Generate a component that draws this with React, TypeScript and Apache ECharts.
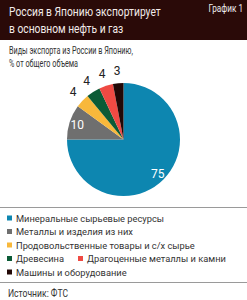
import React, { useEffect, useRef } from "react";
import * as echarts from "echarts";

const categories = [
  "Минеральные сырьевые ресурсы",
  "Металлы и изделия из них",
  "Продовольственные товары и с/х сырье",
  "Древесина",
  "Драгоценные металлы и камни",
  "Машины и оборудование",
];
const values = [75, 10, 4, 4, 4, 3];
const colors = ["#0d86b0", "#6f6f6f", "#f8b83b", "#0b5b36", "#ef4a43", "#220806"];
const innerLabelIdx = [0, 1];

const FONT = "Roboto, 'Liberation Sans', sans-serif";

export default function App() {
  const ref = useRef<HTMLDivElement>(null);
  useEffect(() => {
    if (!ref.current) return;
    const chart = echarts.init(ref.current, undefined, { renderer: "svg" });
    const center = [123.5, 139.5];
    const mainData = categories.map((n, i) => ({
      name: n,
      value: values[i],
      itemStyle: { color: colors[i] },
    }));
    const labelData = (inner: boolean) =>
      categories.map((n, i) => {
        const isInner = innerLabelIdx.includes(i);
        return {
          name: n,
          value: values[i],
          label: { show: inner ? isInner : !isInner },
        };
      });
    const legendRow = (names: string[], left: number, cy: number) => ({
      data: names,
      left,
      top: cy - 7,
      orient: "horizontal",
      icon: "rect",
      itemWidth: 5,
      itemHeight: 5,
      itemGap: 20,
      padding: 0,
      selectedMode: false,
      textStyle: { fontFamily: FONT, fontSize: 9.3, color: "#333", lineHeight: 14, padding: [0, 0, 0, -1] },
    });
    const txt = (text: string, x: number, y: number, size: number, sx: number, fill: string, align = "left") => ({
      type: "text",
      x,
      y,
      scaleX: sx,
      style: { text, fill, font: `${size}px ${FONT}`, textAlign: align, textVerticalAlign: "middle" },
    });
    chart.setOption({
      animation: false,
      backgroundColor: "#ffffff",
      graphic: [
        { type: "rect", shape: { x: 0, y: 0, width: 247, height: 40 }, style: { fill: "#2a0a08" }, z: 0 },
        txt("Россия в Японию экспортирует", 9, 12, 13, 0.79, "#f2eaea"),
        txt("в основном нефть и газ", 9, 29, 13, 0.79, "#f2eaea"),
        txt("График 1", 243, 9, 10, 0.82, "#eeeeee", "right"),
        txt("Виды экспорта из России в Японию,", 9, 51, 10.5, 0.69, "#333333"),
        txt("% от общего объема", 9, 64, 10.5, 0.69, "#333333"),
        { type: "line", shape: { x1: 0, y1: 207.5, x2: 247, y2: 207.5 }, style: { stroke: "#9a9a9a", lineWidth: 1 } },
        { type: "line", shape: { x1: 0, y1: 282.5, x2: 247, y2: 282.5 }, style: { stroke: "#9a9a9a", lineWidth: 1 } },
        txt("Источник: ФТС", 8, 293, 11, 0.78, "#333333"),
      ],
      legend: [
        legendRow([categories[0]], 7, 218),
        legendRow([categories[1]], 7, 231.5),
        legendRow([categories[2]], 7, 245),
        legendRow([categories[3]], 7, 258.5),
        legendRow([categories[4]], 78, 258.5),
        legendRow([categories[5]], 7, 272),
      ],
      series: [
        {
          type: "pie",
          center,
          radius: 56.5,
          startAngle: 90,
          clockwise: true,
          silent: true,
          label: { show: false },
          labelLine: { show: false },
          itemStyle: { borderWidth: 0 },
          data: mainData,
        },
        {
          type: "pie",
          center,
          radius: [33, 58],
          startAngle: 90,
          clockwise: true,
          silent: true,
          itemStyle: { color: "transparent", borderWidth: 0 },
          label: { position: "inside", color: "#ffffff", fontFamily: FONT, fontSize: 12, formatter: "{c}" },
          labelLine: { show: false },
          data: labelData(true),
        },
        {
          type: "pie",
          center,
          radius: [58, 74],
          startAngle: 90,
          clockwise: true,
          silent: true,
          itemStyle: { color: "transparent", borderWidth: 0 },
          label: { position: "inside", color: "#222", fontFamily: FONT, fontSize: 12, formatter: "{c}" },
          labelLine: { show: false },
          data: labelData(false),
        },
      ],
    });
    return () => chart.dispose();
  }, []);
  return <div ref={ref} style={{ position: "fixed", left: 0, top: 0, width: 247, height: 300 }} />;
}
